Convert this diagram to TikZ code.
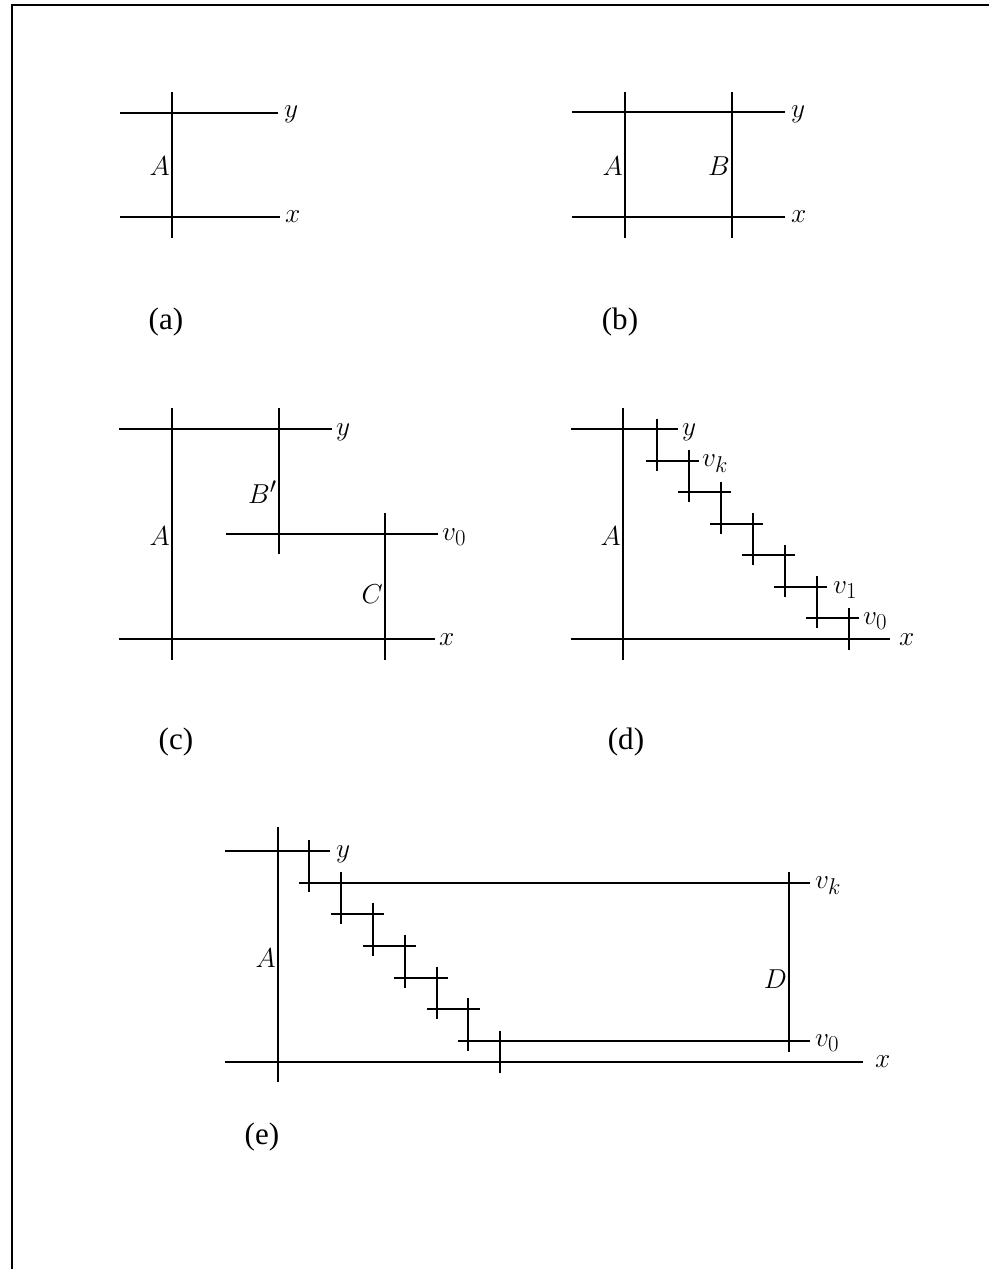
\documentclass[tikz,border=0pt]{standalone}
\usepackage{fix-cm}
\usepackage{fontspec}
\newfontfamily\capfont{Liberation Serif}
\begin{document}
\begin{tikzpicture}[x=1pt,y=-1pt,
  ln/.style={line width=1.8pt},
  ml/.style={inner sep=0pt,font=\Huge,scale=1.1},
  rl/.style={ml,anchor=base west},
  vl/.style={ml,anchor=base east},
  sublabel/.style={inner sep=0pt,font=\capfont\Huge,scale=1.25}]
\useasboundingbox (0,0) rectangle (989,1269);
% frame
\draw[ln] (12,1269) -- (12,5) -- (989,5);
% ---------- (a)
\draw[ln] (120,113) -- (278,113);
\draw[ln] (120,217) -- (280,217);
\draw[ln] (172,92) -- (172,238);
\node[rl] (ay) at (284,117) {$y$};
\node[rl] (ax) at (285,222) {$x$};
\node[vl] (aA) at (170,175) {$A$};
\node[sublabel] (la) at (166,322) {(a)};
% ---------- (b)
\draw[ln] (572,112) -- (785,112);
\draw[ln] (572,217) -- (785,217);
\draw[ln] (625,92) -- (625,238);
\draw[ln] (732,92) -- (732,238);
\node[rl] (by) at (791,117) {$y$};
\node[rl] (bx) at (791,222) {$x$};
\node[vl] (bA) at (623,175) {$A$};
\node[vl] (bB) at (730,175) {$B$};
\node[sublabel] (lb) at (620,322) {(b)};
% ---------- (c)
\draw[ln] (119,429) -- (332,429);
\draw[ln] (172,408) -- (172,660);
\draw[ln] (279,408) -- (279,554);
\draw[ln] (226,534) -- (438,534);
\draw[ln] (385,513) -- (385,660);
\draw[ln] (119,639) -- (435,639);
\node[rl] (cy) at (336,435) {$y$};
\node[rl] (cv) at (442,540) {$v_0$};
\node[rl] (cx) at (439,645) {$x$};
\node[vl] (cA) at (170,545) {$A$};
\node[vl] (cB) at (277,503) {$B'$};
\node[vl] (cC) at (383,603) {$C$};
\node[sublabel] (lc) at (176,742) {(c)};
% ---------- (d)
\draw[ln] (571,429) -- (678,429);
\draw[ln] (623,408) -- (623,660);
\draw[ln] (571,639) -- (890,639);
\draw[ln] (657,419) -- (657,471);
\draw[ln] (689,450) -- (689,502);
\draw[ln] (721,482) -- (721,534);
\draw[ln] (753,513) -- (753,565);
\draw[ln] (785,545) -- (785,597);
\draw[ln] (817,576) -- (817,628);
\draw[ln] (849,608) -- (849,650);
\draw[ln] (646,461) -- (699,461);
\draw[ln] (678,492) -- (731,492);
\draw[ln] (710,524) -- (763,524);
\draw[ln] (742,555) -- (795,555);
\draw[ln] (774,587) -- (827,587);
\draw[ln] (806,618) -- (859,618);
\node[rl] (dy) at (682,435) {$y$};
\node[rl] (dvk) at (702,466) {$v_k$};
\node[rl] (dv1) at (833,593) {$v_1$};
\node[rl] (dv0) at (863,624) {$v_0$};
\node[rl] (dx) at (899,645) {$x$};
\node[vl] (dA) at (621,545) {$A$};
\node[sublabel] (ld) at (626,742) {(d)};
% ---------- (e)
\draw[ln] (225,851) -- (330,851);
\draw[ln] (278,827) -- (278,1082);
\draw[ln] (225,1062) -- (863,1062);
\draw[ln] (299,883) -- (810,883);
\draw[ln] (458,1041) -- (810,1041);
\draw[ln] (789,872) -- (789,1052);
\draw[ln] (309,840) -- (309,892);
\draw[ln] (341,872) -- (341,924);
\draw[ln] (373,903) -- (373,956);
\draw[ln] (405,935) -- (405,988);
\draw[ln] (437,967) -- (437,1019);
\draw[ln] (468,998) -- (468,1051);
\draw[ln] (500,1031) -- (500,1073);
\draw[ln] (331,914) -- (384,914);
\draw[ln] (363,946) -- (416,946);
\draw[ln] (394,978) -- (448,978);
\draw[ln] (427,1009) -- (480,1009);
\node[rl] (ey) at (336,857) {$y$};
\node[rl] (evk) at (815,888) {$v_k$};
\node[rl] (ev0) at (815,1046) {$v_0$};
\node[rl] (ex) at (875,1067) {$x$};
\node[vl] (eA) at (276,967) {$A$};
\node[vl] (eD) at (787,988) {$D$};
\node[sublabel] (le) at (262,1137) {(e)};
\end{tikzpicture}
\end{document}
